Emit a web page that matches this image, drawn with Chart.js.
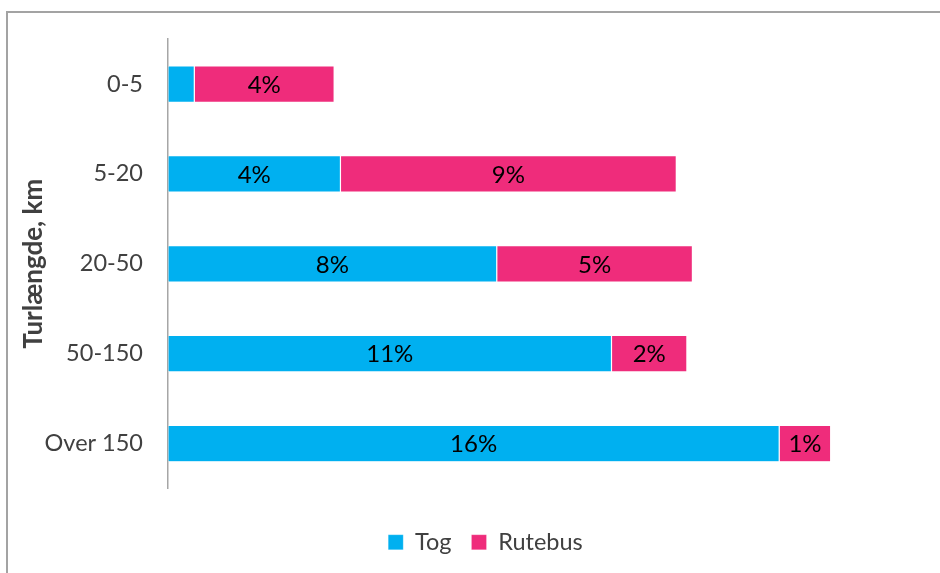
<!DOCTYPE html>
<html>
<head>
<meta charset="utf-8">
<script src="https://cdn.jsdelivr.net/npm/chart.js@4/dist/chart.umd.min.js"></script>
<style>
  html, body { margin: 0; padding: 0; background: #fff; overflow: hidden; }
  #wrap { position: relative; width: 940px; height: 573px; overflow: hidden; }
  #frame { position: absolute; left: 6px; top: 11px; width: 1000px; height: 1000px;
           border: 2px solid #a3a3a3; box-sizing: border-box; }
  canvas { position: absolute; left: 0; top: 0; }
</style>
</head>
<body>
<div id="wrap">
  <div id="frame"></div>
  <canvas id="c" width="940" height="573"></canvas>
</div>
<script>
// Trip length bands (km)
const categories = ['0-5', '5-20', '20-50', '50-150', 'Over 150'];
// Share of trips, percent
const togValues = [0.67, 4.39, 8.37, 11.29, 15.56];
const rutebusValues = [3.56, 8.55, 4.98, 1.92, 1.31];
const seriesNames = ['Tog', 'Rutebus'];
const axisTitle = 'Turlængde, km';

const FONT = 'Lato, "Open Sans", sans-serif';

// Percent labels centred inside each bar segment (only where they fit)
const segmentLabels = {
  id: 'segmentLabels',
  afterDatasetsDraw(chart) {
    const ctx = chart.ctx;
    ctx.save();
    ctx.font = '24px ' + FONT;
    ctx.fillStyle = '#000';
    ctx.textAlign = 'center';
    ctx.textBaseline = 'middle';
    chart.data.datasets.forEach((ds, di) => {
      const meta = chart.getDatasetMeta(di);
      meta.data.forEach((bar, i) => {
        const text = Math.round(ds.data[i]) + '%';
        const w = Math.abs(bar.x - bar.base);
        if (ctx.measureText(text).width + 8 > w) return;
        ctx.fillText(text, (bar.x + bar.base) / 2, bar.y + 1);
      });
    });
    ctx.restore();
  }
};

new Chart(document.getElementById('c'), {
  type: 'bar',
  data: {
    labels: categories,
    datasets: [
      { label: seriesNames[0], data: togValues, backgroundColor: '#00B0F0',
        borderColor: 'rgba(255,255,255,0.35)', borderWidth: 0.6, borderSkipped: false },
      { label: seriesNames[1], data: rutebusValues, backgroundColor: '#EF2C7B',
        borderColor: 'rgba(255,255,255,0.35)', borderWidth: 0.6, borderSkipped: false }
    ]
  },
  options: {
    indexAxis: 'y',
    responsive: false,
    animation: false,
    devicePixelRatio: 1,
    layout: { padding: { left: 37, right: 6, top: 39, bottom: 9 } },
    datasets: { bar: { categoryPercentage: 0.405, barPercentage: 1 } },
    scales: {
      x: {
        stacked: true, min: 0, max: 19.5,
        display: true,
        grid: { display: false },
        border: { display: false },
        ticks: { display: false },
        afterFit(s) { s.height = 22; }
      },
      y: {
        stacked: true,
        grid: { display: false, drawTicks: false },
        border: { display: true, color: '#a6a6a6', width: 1.5 },
        ticks: { color: '#404040', font: { family: FONT, size: 23.5 }, padding: 25 },
        title: { display: true, text: axisTitle, color: '#404040',
                 font: { family: FONT, size: 26, weight: 'bold' },
                 padding: { top: -19, bottom: 0 } },
        afterFit(s) { s.width = 131; }
      }
    },
    plugins: {
      legend: {
        position: 'bottom',
        labels: { color: '#404040', font: { family: FONT, size: 23.5 },
                  boxWidth: 15, boxHeight: 15, padding: 20 }
      },
      tooltip: { enabled: false }
    }
  },
  plugins: [segmentLabels]
});
</script>
</body>
</html>
